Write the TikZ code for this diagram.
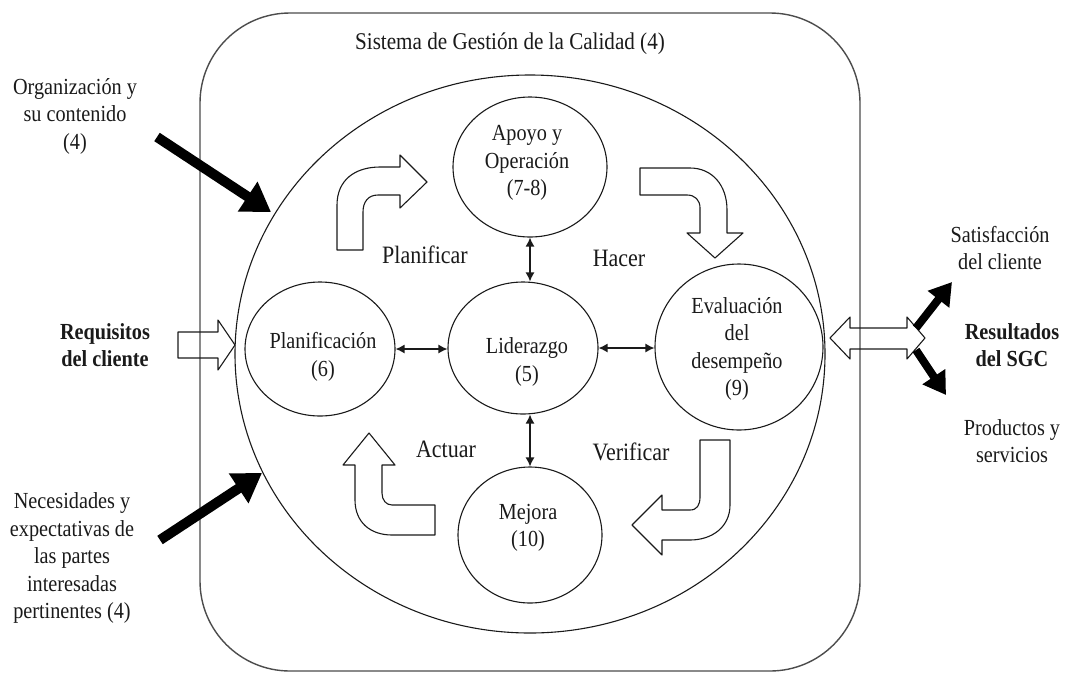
\documentclass[tikz,border=0pt]{standalone}
\usepackage{fontspec}
\setmainfont{Liberation Serif}[FakeStretch=0.88]
\usetikzlibrary{shapes.geometric,arrows.meta}
\definecolor{ink}{HTML}{1A1A1A}
\begin{document}
\begin{tikzpicture}[x=1pt,y=-1pt,line join=round,
  txt/.style={align=center,inner sep=0pt,text=ink,font=\fontsize{23}{27.5}\selectfont},
  bold txt/.style={txt,font=\fontsize{23}{27.5}\selectfont\bfseries},
  phase/.style={inner sep=0pt,text=ink,font=\fontsize{25}{30}\selectfont},
  stage/.style={draw=ink,line width=1.1pt,ellipse,inner sep=0pt},
  link/.style={draw=ink,line width=1.3pt,{Latex[length=9pt,width=9pt]}-{Latex[length=9pt,width=9pt]}},
  block/.style={draw=ink,line width=1.1pt,fill=white},
  hollow/.style={draw=ink,line width=1.1pt},
  heavy/.style={draw=black,line width=10pt,-{Triangle[length=28pt,width=34pt]}},
  medium/.style={draw=black,line width=8pt,-{Triangle[length=22pt,width=26pt]}}]
\useasboundingbox (0,0) rectangle (1075,673);

% system boundary and process ellipse
\node[draw=black!70,line width=1.4pt,rounded corners=90pt,minimum width=660,minimum height=658] (frame) at (530,342) {};
\node[stage,minimum width=590,minimum height=558] (sgc) at (530,354) {};
\node[phase,font=\fontsize{24}{28}\selectfont] (title) at (510,44) {Sistema de Gestión de la Calidad (4)};

% clauses
\node[stage,minimum width=154,minimum height=140] (apoyo) at (530,167) {};
\node[stage,minimum width=150,minimum height=132] (lider) at (523,348) {};
\node[stage,minimum width=150,minimum height=134] (plan) at (320,349) {};
\node[stage,minimum width=168,minimum height=166] (eval) at (739,347) {};
\node[stage,minimum width=144,minimum height=136] (mejora) at (530,535) {};

\node[txt] (apoyoT) at (527,163) {Apoyo y\\Operación\\(7-8)};
\node[txt] (planT) at (323,357) {Planificación\\(6)};
\node[txt] (liderT) at (527,362) {Liderazgo\\(5)};
\node[txt] (evalT) at (737,349) {Evaluación\\del\\desempeño\\(9)};
\node[txt] (mejoraT) at (528,528) {Mejora\\(10)};

% links to leadership
\draw[link] (plan.east) -- (plan.east -| lider.west);
\draw[link] (lider.east) -- (lider.east -| eval.west);
\draw[link] (apoyo.south) -- (apoyo.south |- lider.north);
\draw[link] (mejora.north |- lider.south) -- (mejora.north);

% PDCA labels
\node[phase] (planificar) at (425,255) {Planificar};
\node[phase] (hacer) at (619,258) {Hacer};
\node[phase] (actuar) at (446,449) {Actuar};
\node[phase] (verificar) at (631,452) {Verificar};

% PDCA bent arrows
\draw[block] (337,250) -- (337,205) .. controls (337,180) and (355,167) .. (380,167) -- (400,167) -- (400,155) -- (427,182) -- (400,208) -- (400,195) -- (378,195) .. controls (368,195) and (363,202) .. (363,212) -- (363,250) -- cycle;
\draw[block] (640,168) -- (690,168) .. controls (712,168) and (727,185) .. (727,210) -- (727,233) -- (743,233) -- (715,258) -- (687,233) -- (700,233) -- (700,208) .. controls (700,200) and (695,195) .. (687,195) -- (640,195) -- cycle;
\draw[block] (700,440) -- (730,440) -- (730,505) .. controls (730,527) and (712,540) .. (690,540) -- (662,540) -- (662,555) -- (632,525) -- (662,495) -- (662,510) -- (690,510) .. controls (697,510) and (700,505) .. (700,497) -- cycle;
\draw[block] (435,505) -- (392,505) .. controls (386,505) and (382,500) .. (382,493) -- (382,465) -- (395,465) -- (369,433) -- (343,465) -- (355,465) -- (355,500) .. controls (355,522) and (370,535) .. (392,535) -- (435,535) -- cycle;

% inputs
\node[txt] (org) at (75,116) {Organización y\\su contenido\\(4)};
\node[bold txt] (req) at (105,345) {Requisitos\\del cliente};
\node[txt] (nec) at (72,558) {Necesidades y\\expectativas de\\las partes\\interesadas\\pertinentes (4)};
\coordinate (orgTail) at (157,137);
\coordinate (orgTip) at (271,212);
\coordinate (necTail) at (160,540);
\coordinate (necTip) at (262,473);
\draw[heavy] (orgTail) -- (orgTip);
\draw[heavy] (necTail) -- (necTip);
\draw[hollow] (178,332) -- (218,332) -- (218,320) -- (235,345) -- (218,370) -- (218,358) -- (178,358) -- cycle;

% outputs
\draw[hollow] (830,338) -- (850,317) -- (850,328) -- (907,328) -- (907,317) -- (925,338) -- (907,359) -- (907,349) -- (850,349) -- (850,359) -- cycle;
\coordinate (outUp) at (916,328);
\coordinate (outDown) at (916,350);
\coordinate (satTip) at (952,282);
\coordinate (prodTip) at (946,395);
\draw[medium] (outUp) -- (satTip);
\draw[medium] (outDown) -- (prodTip);
\node[txt] (sat) at (1000,248) {Satisfacción\\del cliente};
\node[bold txt] (res) at (1012,345) {Resultados\\del SGC};
\node[txt] (prod) at (1012,441) {Productos y\\servicios};
\end{tikzpicture}
\end{document}
